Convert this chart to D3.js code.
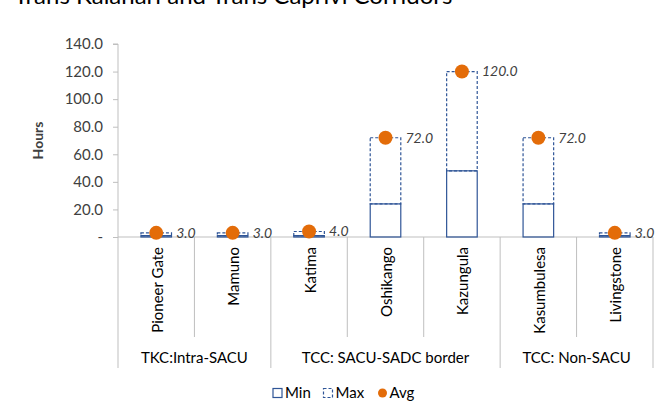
<!DOCTYPE html>
<html>
<head>
<meta charset="utf-8">
<script src="https://cdn.jsdelivr.net/npm/d3@7"></script>
<style>
  html, body { margin: 0; padding: 0; background: #fff; }
  svg { display: block; font-family: Lato, "Open Sans", sans-serif; }
</style>
</head>
<body>
<svg id="chart" width="670" height="410"></svg>
<script>
// Border crossing times (hours) along the Trans Kalahari and Trans Caprivi corridors
const crossings = ["Pioneer Gate", "Mamuno", "Katima", "Oshikango", "Kazungula", "Kasumbulesa", "Livingstone"];
const groups = ["TKC:Intra-SACU", "TKC:Intra-SACU", "TCC: SACU-SADC border", "TCC: SACU-SADC border", "TCC: SACU-SADC border", "TCC: Non-SACU", "TCC: Non-SACU"];
const minHours = [1, 1, 1, 24, 48, 24, 1];
const maxHours = [3, 3, 4, 72, 120, 72, 3];
const avgHours = [3, 3, 4, 72, 120, 72, 3];
const yTicks = [0, 20, 40, 60, 80, 100, 120, 140];
const legendItems = ["Min", "Max", "Avg"];

const svg = d3.select("#chart");
const plotLeft = 118, plotRight = 653, plotTop = 44, plotBottom = 237;
const blue = "#2F5597", orange = "#E36C09", grid = "#BFBFBF", ink = "#404040";

// Title (runs off the top edge)
svg.append("text").attr("x", 14).attr("y", 4)
  .attr("font-size", 24).attr("fill", "#000")
  .text("Trans Kalahari and Trans Caprivi Corridors");

const x = d3.scaleBand().domain(crossings).range([plotLeft, plotRight]).paddingInner(0).paddingOuter(0);
const y = d3.scaleLinear().domain([0, 140]).range([plotBottom, plotTop]);
const barW = x.bandwidth() * 0.4;

// Y axis
const yAxis = d3.axisLeft(y).tickValues(yTicks).tickSize(5).tickPadding(10)
  .tickFormat(d => d === 0 ? "-" : d3.format(".1f")(d));
const gy = svg.append("g").attr("transform", `translate(${plotLeft},0)`).call(yAxis);
gy.select(".domain").attr("stroke", grid).attr("d", `M-5,${plotTop}H0V${plotBottom}`);
gy.selectAll(".tick line").attr("stroke", grid);
gy.selectAll(".tick text").attr("font-size", 15).attr("fill", ink).attr("font-family", "Lato, sans-serif");

svg.append("text")
  .attr("transform", `translate(43,${(plotTop + plotBottom) / 2}) rotate(-90)`)
  .attr("text-anchor", "middle").attr("font-size", 14).attr("font-weight", 700).attr("fill", ink)
  .text("Hours");

// X axis baseline
svg.append("line").attr("x1", plotLeft).attr("x2", plotRight).attr("y1", plotBottom).attr("y2", plotBottom)
  .attr("stroke", grid);

// Category separators: short between crossings, long between groups and at the ends
const edges = d3.range(crossings.length + 1).map(i => i === crossings.length ? plotRight : x(crossings[i]));
edges.forEach((ex, i) => {
  const isGroupEdge = i === 0 || i === crossings.length || groups[i] !== groups[i - 1];
  svg.append("line").attr("x1", ex).attr("x2", ex).attr("y1", plotBottom)
    .attr("y2", isGroupEdge ? 368 : 337).attr("stroke", grid);
});

// Crossing names, rotated
svg.append("g").selectAll("text").data(crossings).join("text")
  .attr("transform", d => `translate(${x(d) + x.bandwidth() / 2 + 6.5},247) rotate(-90)`)
  .attr("text-anchor", "end").attr("font-size", 15).attr("fill", "#000")
  .text(d => d);

// Group names, centred under their crossings
const groupNames = Array.from(new Set(groups));
groupNames.forEach(g => {
  const members = crossings.filter((c, i) => groups[i] === g);
  const x0 = x(members[0]), x1 = x(members[members.length - 1]) + x.bandwidth();
  svg.append("text").attr("x", (x0 + x1) / 2).attr("y", 363)
    .attr("text-anchor", "middle").attr("font-size", 15).attr("fill", "#000").text(g);
});

// Max range boxes (dashed), drawn from min up to max
svg.append("g").selectAll("rect").data(crossings).join("rect")
  .attr("x", d => x(d) + (x.bandwidth() - barW) / 2)
  .attr("width", barW)
  .attr("y", (d, i) => y(maxHours[i]))
  .attr("height", (d, i) => y(minHours[i]) - y(maxHours[i]))
  .attr("fill", "none").attr("stroke", blue).attr("stroke-width", 1.2)
  .attr("stroke-dasharray", "3,2");

// Min boxes (solid)
svg.append("g").selectAll("rect").data(crossings).join("rect")
  .attr("x", d => x(d) + (x.bandwidth() - barW) / 2)
  .attr("width", barW)
  .attr("y", (d, i) => y(minHours[i]))
  .attr("height", (d, i) => y(0) - y(minHours[i]))
  .attr("fill", "none").attr("stroke", blue).attr("stroke-width", 1.2);

// Average markers with value labels
svg.append("g").selectAll("circle").data(crossings).join("circle")
  .attr("cx", d => x(d) + x.bandwidth() / 2)
  .attr("cy", (d, i) => y(avgHours[i]))
  .attr("r", 7).attr("fill", orange);

svg.append("g").selectAll("text").data(crossings).join("text")
  .attr("x", d => x(d) + x.bandwidth() / 2 + 20)
  .attr("y", (d, i) => y(avgHours[i]))
  .attr("dy", "0.35em").attr("font-size", 14).attr("font-style", "italic").attr("fill", ink)
  .text((d, i) => d3.format(".1f")(avgHours[i]));

// Legend
const lg = svg.append("g").attr("transform", "translate(0,393)");
const lx = [273, 323.5, 377.5];
lg.append("rect").attr("x", lx[0]).attr("y", -4.5).attr("width", 9).attr("height", 9)
  .attr("fill", "none").attr("stroke", blue).attr("stroke-width", 1.2);
lg.append("rect").attr("x", lx[1]).attr("y", -4.5).attr("width", 9).attr("height", 9)
  .attr("fill", "none").attr("stroke", blue).attr("stroke-width", 1.2).attr("stroke-dasharray", "3,2");
lg.append("circle").attr("cx", lx[2] + 5).attr("cy", 0).attr("r", 4.5).attr("fill", orange);
legendItems.forEach((t, i) => {
  lg.append("text").attr("x", lx[i] + 12).attr("y", 0).attr("dy", "0.35em")
    .attr("font-size", 15).attr("fill", "#000").text(t);
});
</script>
</body>
</html>
